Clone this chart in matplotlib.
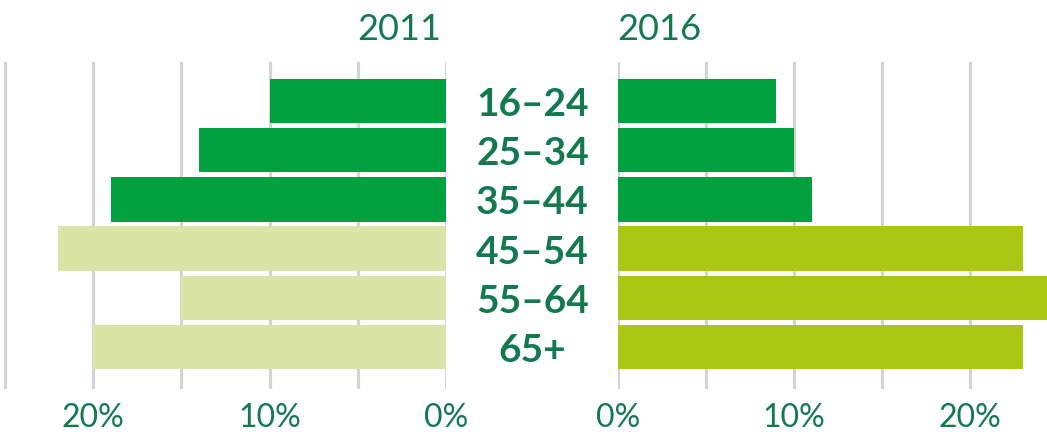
import numpy as np
import matplotlib
matplotlib.use('Agg')
import matplotlib.pyplot as plt
import matplotlib.transforms as mtransforms

plt.rcParams['font.family'] = ['Lato', 'DejaVu Sans']

# data (percent)
age_groups = ['16–24', '25–34', '35–44', '45–54', '55–64', '65+']
share_2011 = [10, 14, 19, 22, 15, 20]
share_2016 = [9, 10, 11, 23, 25, 23]
years = ['2011', '2016']
grid_pos = [0, 5, 10, 15, 20, 25]
tick_labels = ['0%', '', '10%', '', '20%', '']

txt_col = '#137A4F'
dark = '#00A13E'
light_l = '#D9E4A5'
light_r = '#AAC813'
cols_l = [dark] * 3 + [light_l] * 3
cols_r = [dark] * 3 + [light_r] * 3

W, H = 1047, 432
fig = plt.figure(figsize=(W / 100, H / 100), dpi=100)

bottom = 1 - 389 / H
height = 327 / H
axL = fig.add_axes([1 / W, bottom, 445 / W, height])
axR = fig.add_axes([618 / W, bottom, 429 / W, height])

y = np.arange(len(age_groups))

def style(ax, vals, cols, xlim):
    ax.barh(y, vals, height=0.9, color=cols, zorder=3)
    ax.set_xticks(grid_pos)
    ax.set_xticklabels(tick_labels)
    # limits after ticks, otherwise the 25% tick widens the axis
    ax.set_xlim(*xlim)
    ax.set_ylim(len(age_groups) - 1 + 0.85, -0.79)
    ax.set_yticks([])
    ax.tick_params(axis='x', length=0, pad=10, labelsize=23, labelcolor=txt_col)
    ax.grid(axis='x', color='#D4D4D4', linewidth=2.3, zorder=0)
    ax.set_axisbelow(True)
    for s in ax.spines.values():
        s.set_visible(False)

style(axL, share_2011, cols_l, (445 / 17.65, 0))
style(axR, share_2016, cols_r, (0, 429 / 17.6))

# year headers
fig.text(441 / W, 1 - 29 / H, years[0], ha='right', va='center', fontsize=26, color=txt_col)
fig.text(617 / W, 1 - 29 / H, years[1], ha='left', va='center', fontsize=26, color=txt_col)

# age group labels in the middle
tr = mtransforms.blended_transform_factory(fig.transFigure, axL.transData)
for i, lab in enumerate(age_groups):
    fig.text(532.5 / W, i + 0.07, lab, transform=tr, ha='center', va='center',
             fontsize=28, fontweight='bold', color=txt_col)

fig.savefig('out.png', dpi=100)
